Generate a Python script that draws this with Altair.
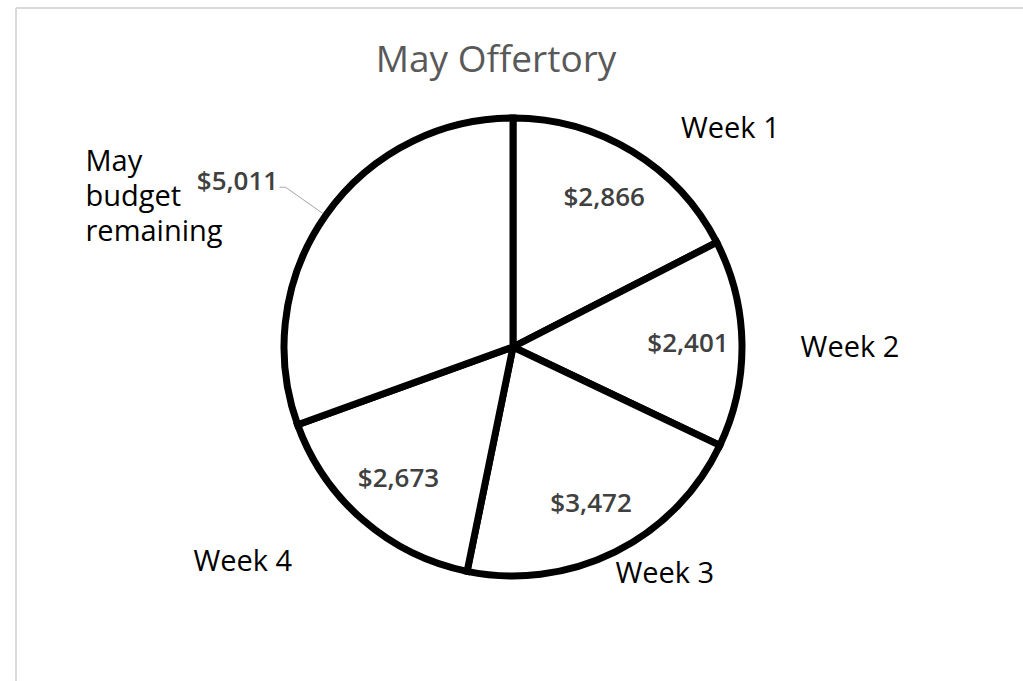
import altair as alt
import pandas as pd

categories = ["Week 1", "Week 2", "Week 3", "Week 4", "May budget remaining"]
values = [2866, 2401, 3472, 2673, 5011]
slice_order = [1, 2, 3, 4, 5]
category_text = ["Week 1", "Week 2", "Week 3", "Week 4", "May\nbudget\nremaining"]

df = pd.DataFrame({"category": categories, "value": values,
                   "order": slice_order, "ctext": category_text})

W, H = 986, 654
PAD = {"left": 20, "top": 20, "right": 17, "bottom": 7}
R = 229
FONT = "Open Sans"
MAY = "May budget remaining"

theta = alt.Theta("value:Q", stack=True)
order = alt.Order("order:Q", sort="ascending")
base = alt.Chart(df).encode(theta=theta, order=order, detail="category:N")

pie = base.mark_arc(fill="white", stroke="black", strokeWidth=7, outerRadius=R)

inside = base.transform_calculate(
    lbl=f"datum.category == '{MAY}' ? '' : format(datum.value, '$,.0f')"
).mark_text(radius=175, font=FONT, fontSize=26, fontWeight=600,
            color="#404040", align="center", baseline="middle").encode(text="lbl:N")

may_value = base.transform_calculate(
    lbl=f"datum.category == '{MAY}' ? format(datum.value, '$,.0f') : ''"
).mark_text(radius=300, dx=-30, dy=7, font=FONT, fontSize=26, fontWeight=600,
            color="#404040", align="center", baseline="middle").encode(text="lbl:N")

# per-label nudges (style only)
label_style = {
    "Week 1": dict(dx=61, dy=38, align="center", baseline="middle"),
    "Week 2": dict(dx=37, dy=6, align="center", baseline="middle"),
    "Week 3": dict(dx=18, dy=-42, align="center", baseline="middle"),
    "Week 4": dict(dx=-74, dy=-12, align="center", baseline="middle"),
    MAY: dict(dx=-182, dy=-27, align="left", baseline="top"),
}
cat_layers = []
for cat in categories:
    st = label_style[cat]
    cat_layers.append(
        base.transform_calculate(
            lbl=f"datum.category == '{cat}' ? datum.ctext : ''"
        ).mark_text(radius=300, font=FONT, fontSize=29, color="#000000",
                    lineBreak="\n", lineHeight=35, **st).encode(text="lbl:N")
    )

leader_src = alt.Chart(df).transform_joinaggregate(
    total="sum(value)"
).transform_window(
    cum="sum(value)", sort=[alt.SortField("order")], frame=[None, 0]
).transform_calculate(
    mid="2 * PI * (datum.cum - datum.value / 2) / datum.total"
).transform_calculate(
    x1=f"{W}/2 + {R + 3} * sin(datum.mid)",
    y1=f"{H}/2 - {R + 3} * cos(datum.mid)",
    x2=f"{W}/2 + 278 * sin(datum.mid)",
    y2=f"{H}/2 - 278 * cos(datum.mid)",
    x3=f"{W}/2 + 278 * sin(datum.mid) - 6",
).transform_filter(alt.datum.category == MAY)

leader = leader_src.mark_rule(color="#a6a6a6", strokeWidth=1).encode(
    x=alt.X("x1:Q", scale=None), y=alt.Y("y1:Q", scale=None),
    x2="x2:Q", y2="y2:Q")
leader_stub = leader_src.mark_rule(color="#a6a6a6", strokeWidth=1).encode(
    x=alt.X("x2:Q", scale=None), y=alt.Y("y2:Q", scale=None),
    x2="x3:Q")

frame_data = alt.Data(values=[{"k": 1}])
frame_top = alt.Chart(frame_data).mark_rule(color="#d9d9d9", strokeWidth=2).encode(
    x=alt.value(-4), x2=alt.value(1003), y=alt.value(-12))
frame_left = alt.Chart(frame_data).mark_rule(color="#d9d9d9", strokeWidth=2).encode(
    x=alt.value(-4), y=alt.value(-12), y2=alt.value(H + 7))

chart = alt.layer(
    frame_top, frame_left, pie, inside, may_value, *cat_layers, leader, leader_stub
).properties(
    width=W, height=H,
    padding=PAD,
    autosize=alt.AutoSizeParams(type="none"),
    title=alt.TitleParams("May Offertory", font=FONT, fontSize=37, fontWeight="normal",
                          color="#595959", anchor="middle", dx=-17, dy=73, offset=0),
    background="white",
).configure_view(strokeWidth=0)

chart.save("out.html", embed_options={"renderer": "svg", "actions": False})
